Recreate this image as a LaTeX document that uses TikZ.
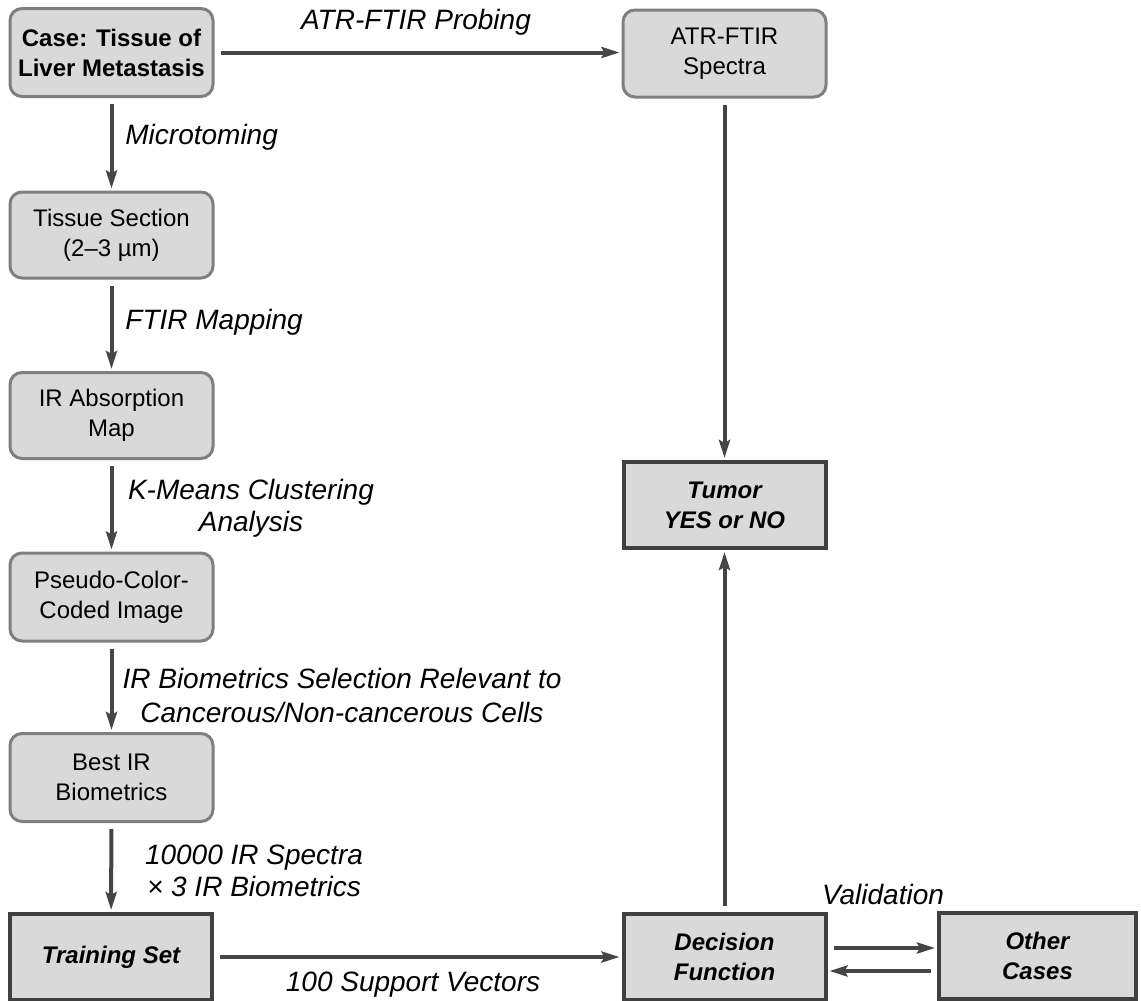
\documentclass[tikz,border=0pt]{standalone}
\usepackage{fontspec}
\setmainfont{Liberation Sans}
\usetikzlibrary{arrows.meta}
\definecolor{boxfill}{HTML}{D9D9D9}
\definecolor{rborder}{HTML}{7F7F7F}
\definecolor{sborder}{HTML}{404040}
\definecolor{arr}{HTML}{454545}
\begin{document}
\begin{tikzpicture}[x=0.5pt,y=-0.5pt,
 rbox/.style={draw=rborder, line width=1.5pt, fill=boxfill, rounded corners=6pt, minimum width=101.5pt, minimum height=44pt, align=center, font=\fontsize{12}{15}\selectfont, inner sep=0pt},
 sbox/.style={draw=sborder, line width=2pt, fill=boxfill, minimum width=101pt, minimum height=43pt, align=center, font=\fontsize{12}{15}\selectfont\bfseries\itshape, inner sep=0pt},
 flow/.style={draw=arr, line width=2pt, shorten <=3pt, shorten >=1pt, -{Stealth[length=9pt,width=5.5pt,inset=1.5pt]}},
 lab/.style={font=\fontsize{14}{16}\selectfont\itshape, align=center, inner sep=0pt}]
\useasboundingbox (0,0) rectangle (1141,1001);
\fill[white] (0,0) rectangle (1141,1001);

\node[rbox, font=\fontsize{12}{15}\selectfont\bfseries] (case) at (111.5,52.5) {Case: Tissue of\\Liver Metastasis};
\node[rbox, minimum height=43.5pt] (atr) at (724.5,53.5) {ATR-FTIR\\Spectra};
\node[rbox, minimum height=43pt] (tis) at (111.5,235) {Tissue Section\\(2–3 µm)};
\node[rbox, minimum height=43pt] (ira) at (111.5,415.5) {IR Absorption\\Map};
\node[rbox] (pse) at (111.5,597) {Pseudo-Color-\\Coded Image};
\node[rbox] (best) at (111.5,777.5) {Best IR\\Biometrics};
\node[sbox] (train) at (111,957) {Training Set};
\node[sbox] (tumor) at (724.5,505) {Tumor\\YES or NO};
\node[sbox] (dec) at (724.5,957) {Decision\\Function};
\node[sbox, minimum width=98.5pt] (other) at (1037.5,956) {Other\\Cases};

\draw[flow] (case.east) -- (case.east -| atr.west);
\draw[flow] (case) -- (tis);
\draw[flow] (tis) -- (ira);
\draw[flow] (ira) -- (pse);
\draw[flow] (pse) -- (best);
\draw[flow] (best) -- (train);
\draw[flow] (atr) -- (tumor);
\draw[flow] (dec) -- (tumor);
\draw[flow] (train.east) -- (train.east -| dec.west);
\draw[flow] ([yshift=4.5pt]dec.east) -- ([yshift=4.5pt]dec.east -| other.west);
\draw[flow] ([yshift=-7.5pt]other.west) -- ([yshift=-7.5pt]other.west -| dec.east);

\node[lab] (l1) at (416,22) {ATR-FTIR Probing};
\node[lab, anchor=west] (l2) at (125,137) {Microtoming};
\node[lab, anchor=west] (l3) at (125,322) {FTIR Mapping};
\node[lab] (l4) at (251,508) {K-Means Clustering\\Analysis};
\node[lab, font=\fontsize{14}{17}\selectfont\itshape] (l5) at (342,695) {IR Biometrics Selection Relevant to\\Cancerous/Non-cancerous Cells};
\node[lab] (l6) at (254,871) {10000 IR Spectra\\× 3 IR Biometrics};
\node[lab] (l7) at (413,985) {100 Support Vectors};
\node[lab] (l8) at (883,894) {Validation};
\end{tikzpicture}
\end{document}
